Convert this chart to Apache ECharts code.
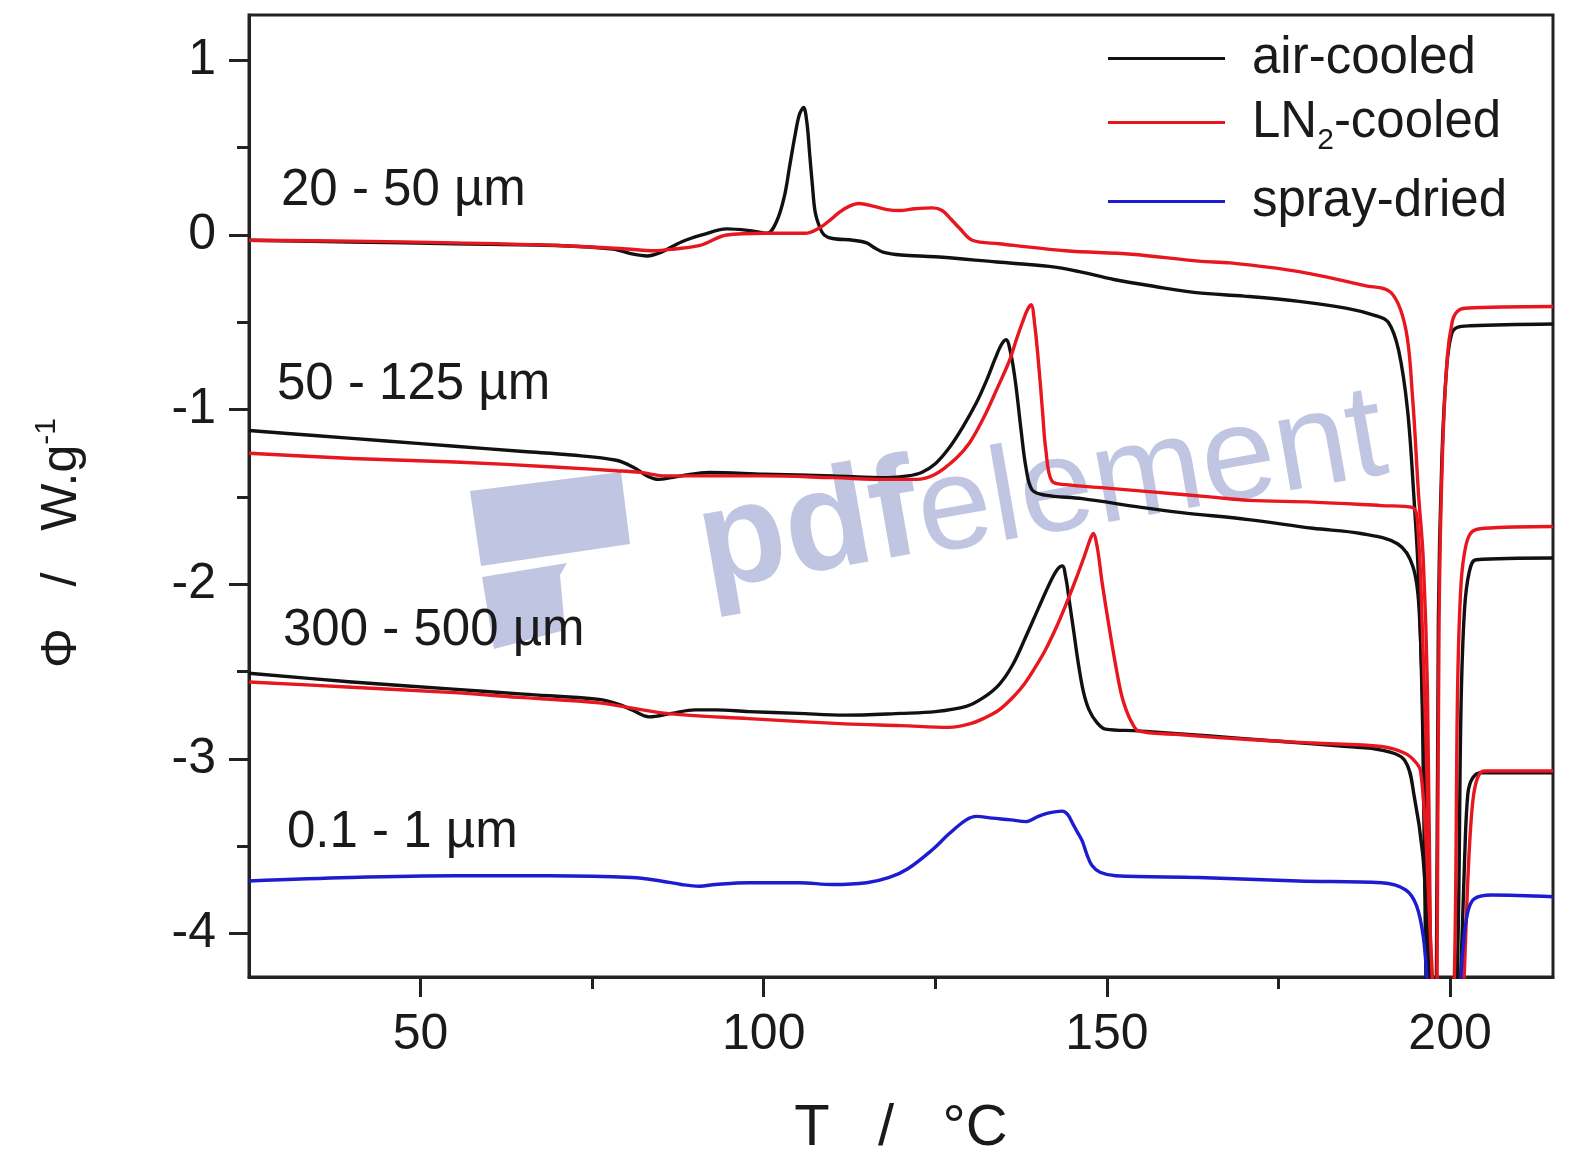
<!DOCTYPE html>
<html>
<head>
<meta charset="utf-8">
<script src="https://cdn.jsdelivr.net/npm/echarts@6/dist/echarts.min.js"></script>
<style>
  html, body { margin: 0; padding: 0; background: #ffffff; }
  #chart { width: 1573px; height: 1167px; }
</style>
</head>
<body>
<div id="chart"></div>
<script>
const FONT = '"Liberation Sans", Arial, Helvetica, sans-serif';

// DSC heating traces: [temperature in °C, heat flow Φ in W/g]
const air_20_50 = [[25,-0.03],[40,-0.04],[55,-0.05],[70,-0.06],[78,-0.08],[81,-0.11],[83,-0.12],[85,-0.10],[88,-0.04],[91,0.0],[94.6,0.035],[98,0.025],[100.5,0.01],[101.9,0.08],[103,0.22],[103.8,0.40],[104.6,0.58],[105.2,0.69],[105.8,0.73],[106.3,0.64],[106.7,0.46],[107.1,0.28],[107.5,0.13],[108.2,0.04],[108.8,0.0],[110,-0.02],[113,-0.03],[115,-0.045],[116.2,-0.075],[117.5,-0.10],[120,-0.115],[125,-0.125],[134,-0.155],[141.6,-0.18],[146,-0.21],[151,-0.255],[157,-0.295],[163,-0.33],[170,-0.35],[178,-0.38],[185,-0.42],[189,-0.46],[191,-0.50],[192.5,-0.66],[193.8,-1.0],[194.7,-1.48],[195.4,-1.96],[196.0,-2.8],[196.5,-4.3],[197.3,-5.8],[198.0,-4.3],[198.3,-2.2],[198.8,-1.29],[199.5,-0.76],[200.2,-0.57],[201,-0.53],[203,-0.52],[215,-0.51]];
const ln2_20_50 = [[25,-0.03],[40,-0.035],[55,-0.045],[70,-0.06],[80,-0.08],[84,-0.09],[87,-0.08],[90.7,-0.06],[94.6,0.0],[100,0.01],[106,0.01],[108.1,0.04],[109.5,0.08],[111,0.13],[112.5,0.165],[113.9,0.18],[115.9,0.165],[118,0.145],[119.8,0.14],[122,0.15],[124.6,0.155],[126,0.14],[127.3,0.09],[128.5,0.04],[130.4,-0.03],[134.3,-0.05],[144,-0.09],[153.6,-0.11],[163.4,-0.15],[168,-0.16],[178,-0.21],[187.6,-0.29],[191.4,-0.33],[193.5,-0.53],[194.5,-0.91],[195.4,-1.48],[196.1,-1.86],[196.7,-2.6],[197.2,-4.3],[197.7,-5.8],[198.1,-4.3],[198.4,-2.2],[198.9,-1.25],[199.6,-0.7],[200.3,-0.5],[201,-0.44],[202.2,-0.42],[215,-0.41]];

const air_50_125 = [[25,-1.12],[35,-1.15],[45,-1.18],[55,-1.21],[65,-1.24],[72,-1.26],[78.5,-1.29],[81,-1.33],[83,-1.38],[84.7,-1.40],[86.5,-1.39],[88,-1.38],[92,-1.36],[100,-1.37],[110,-1.38],[118,-1.39],[121,-1.38],[123,-1.36],[125,-1.31],[127,-1.22],[129,-1.10],[131,-0.96],[132.5,-0.83],[133.7,-0.71],[134.6,-0.63],[135.3,-0.60],[136,-0.68],[136.7,-0.85],[137.5,-1.12],[138.2,-1.33],[139.1,-1.46],[141,-1.49],[146.4,-1.51],[155,-1.56],[160.9,-1.59],[170.6,-1.63],[180,-1.68],[187,-1.71],[192.4,-1.77],[194.6,-1.90],[195.5,-2.15],[196.2,-3.0],[196.8,-4.3],[199,-6.0],[201.0,-4.3],[201.6,-2.7],[202.1,-2.15],[202.8,-1.93],[203.8,-1.86],[215,-1.85]];
const ln2_50_125 = [[25,-1.25],[40,-1.28],[55,-1.30],[70,-1.33],[78.5,-1.35],[82,-1.36],[85.8,-1.38],[90,-1.38],[100,-1.38],[110,-1.39],[118,-1.40],[122.2,-1.40],[125,-1.37],[128,-1.28],[130,-1.19],[132,-1.05],[134,-0.88],[135.8,-0.72],[136.8,-0.60],[137.7,-0.50],[138.4,-0.43],[138.95,-0.40],[139.5,-0.52],[140.1,-0.76],[140.6,-1.00],[141.1,-1.23],[142,-1.41],[144,-1.43],[150,-1.45],[156.1,-1.47],[165,-1.50],[170.6,-1.52],[180,-1.53],[190,-1.55],[194.5,-1.56],[195.3,-1.67],[196.0,-2.3],[196.7,-3.2],[197.3,-4.3],[199,-6.0],[200.6,-4.3],[201.1,-2.6],[201.6,-2.0],[202.3,-1.78],[203.2,-1.70],[205,-1.68],[215,-1.67]];

const air_300_500 = [[25,-2.51],[40,-2.56],[54.2,-2.60],[65,-2.63],[76,-2.66],[79,-2.69],[80.8,-2.72],[83.3,-2.76],[86.6,-2.74],[90,-2.72],[93,-2.72],[97.8,-2.73],[105,-2.74],[111.8,-2.75],[120,-2.74],[125,-2.73],[129.5,-2.70],[132,-2.65],[134.3,-2.575],[136.3,-2.46],[138.2,-2.30],[140,-2.14],[141.6,-2.00],[142.7,-1.92],[143.5,-1.895],[144,-1.96],[144.5,-2.09],[145.2,-2.28],[145.9,-2.47],[146.6,-2.62],[147.4,-2.72],[148.5,-2.79],[149.8,-2.83],[154.6,-2.84],[165,-2.87],[175,-2.90],[185,-2.93],[190,-2.95],[193.4,-3.01],[194.8,-3.22],[196,-3.54],[196.6,-3.9],[197.0,-4.3],[199.5,-6.0],[201.5,-4.3],[202.1,-3.6],[202.6,-3.2],[203.3,-3.11],[204.5,-3.08],[215,-3.08]];
const ln2_300_500 = [[25,-2.56],[40,-2.59],[54.2,-2.62],[65,-2.65],[76,-2.68],[85.8,-2.74],[97.8,-2.77],[111.8,-2.80],[120,-2.81],[127,-2.82],[130,-2.80],[132,-2.77],[134.3,-2.72],[136.5,-2.64],[138,-2.57],[139.5,-2.48],[141,-2.38],[142.6,-2.25],[144,-2.12],[145.5,-1.97],[146.8,-1.83],[147.5,-1.75],[148,-1.71],[148.6,-1.79],[149.3,-1.99],[150.3,-2.24],[151.3,-2.47],[152.1,-2.63],[152.8,-2.72],[153.6,-2.79],[154.6,-2.84],[160,-2.86],[170.6,-2.89],[180,-2.91],[190,-2.93],[193.5,-2.97],[195.0,-3.02],[195.7,-3.07],[196.4,-3.4],[197.0,-3.9],[197.5,-4.3],[200,-6.0],[202.0,-4.3],[202.7,-3.6],[203.3,-3.25],[204.0,-3.11],[205,-3.07],[215,-3.07]];

const spray_01_1 = [[25,-3.70],[39.7,-3.68],[55,-3.67],[68.8,-3.67],[80.8,-3.68],[85,-3.70],[88,-3.72],[90.6,-3.73],[93,-3.72],[97.8,-3.71],[105.2,-3.71],[110,-3.72],[115,-3.71],[118.3,-3.68],[121,-3.63],[124.6,-3.52],[127,-3.43],[129.5,-3.35],[131,-3.33],[133.3,-3.34],[136,-3.35],[138.2,-3.36],[140,-3.33],[141.6,-3.31],[143.5,-3.30],[144.3,-3.32],[145,-3.37],[145.7,-3.42],[146.4,-3.47],[147.1,-3.55],[147.8,-3.61],[149,-3.65],[151.3,-3.67],[163.4,-3.68],[177.9,-3.70],[190,-3.71],[193.5,-3.75],[195.1,-3.84],[196.1,-4.02],[196.7,-4.3],[199.5,-6.0],[201.5,-4.3],[202.1,-4.0],[202.7,-3.86],[203.6,-3.80],[206,-3.78],[215,-3.79]];

// axis ticks
const xMajorTicks = [50, 100, 150, 200];
const xMinorTicks = [75, 125, 175];
const yMajorTicks = [-4, -3, -2, -1, 0, 1];
const yMinorTicks = [-3.5, -2.5, -1.5, -0.5, 0.5];

// particle size classes written next to each trace group
const sizeLabels = ['20 - 50 µm', '50 - 125 µm', '300 - 500 µm', '0.1 - 1 µm'];
const sizeLabelPos = [[281, 191], [277, 385], [283, 631], [287, 833]];

const BLACK = '#111111', RED = '#e8161e', BLUE = '#1d1dcf', AXIS = '#222222', TEXT = '#1a1a1a';
const MARK = '#c0c5e2';

function trace(name, data, color) {
  return {
    name: name, type: 'line', data: data,
    symbol: 'none', showSymbol: false,
    smooth: 0.35,
    lineStyle: { color: color, width: 3.4, join: 'round' },
    itemStyle: { color: color },
    clip: true, z: 3
  };
}

const legendBase = {
  orient: 'vertical', left: 1108, padding: 0, itemGap: 0,
  icon: 'rect', itemWidth: 117, itemHeight: 3, selectedMode: false,
  textStyle: { fontSize: 51, fontFamily: FONT, color: TEXT, padding: [0, 0, 0, 22] }
};

const chart = echarts.init(document.getElementById('chart'), null, { renderer: 'canvas' });

const option = {
  animation: false,
  backgroundColor: '#ffffff',
  grid: { left: 249, right: 20, top: 15, bottom: 190, show: true, borderColor: AXIS, borderWidth: 3, containLabel: false },
  xAxis: [
    {
      type: 'value', min: 25, max: 215, position: 'bottom',
      axisLine: { show: true, onZero: false, lineStyle: { color: AXIS, width: 3 } },
      axisTick: { show: true, inside: false, length: 20, customValues: xMajorTicks, lineStyle: { color: AXIS, width: 3 } },
      axisLabel: { customValues: xMajorTicks, fontSize: 50, fontFamily: FONT, color: TEXT, margin: 33 },
      splitLine: { show: false },
      name: 'T   /   °C', nameLocation: 'middle', nameGap: 123,
      nameTextStyle: { fontSize: 58, fontFamily: FONT, color: TEXT }
    },
    {
      type: 'value', min: 25, max: 215, position: 'bottom',
      axisLine: { show: false, onZero: false },
      axisTick: { show: true, inside: false, length: 12, customValues: xMinorTicks, lineStyle: { color: AXIS, width: 3 } },
      axisLabel: { show: false },
      splitLine: { show: false }
    }
  ],
  yAxis: [
    {
      type: 'value', min: -4.25, max: 1.26, position: 'left',
      axisLine: { show: true, onZero: false, lineStyle: { color: AXIS, width: 3 } },
      axisTick: { show: true, inside: false, length: 20, customValues: yMajorTicks, lineStyle: { color: AXIS, width: 3 } },
      axisLabel: { customValues: yMajorTicks, fontSize: 50, fontFamily: FONT, color: TEXT, margin: 33 },
      splitLine: { show: false }
    },
    {
      type: 'value', min: -4.25, max: 1.26, position: 'left',
      axisLine: { show: false, onZero: false },
      axisTick: { show: true, inside: false, length: 12, customValues: yMinorTicks, lineStyle: { color: AXIS, width: 3 } },
      axisLabel: { show: false },
      splitLine: { show: false }
    }
  ],
  legend: [
    Object.assign({}, legendBase, { top: 33, data: ['air-cooled'] }),
    Object.assign({}, legendBase, {
      top: 97, data: ['LN2-cooled'],
      formatter: function () { return '{a|LN}{s|2}{a|-cooled}'; },
      textStyle: Object.assign({}, legendBase.textStyle, {
        rich: {
          a: { fontSize: 51, fontFamily: FONT, color: TEXT },
          s: { fontSize: 30, fontFamily: FONT, color: TEXT, padding: [36, 0, 0, 0] }
        }
      })
    }),
    Object.assign({}, legendBase, { top: 176, data: ['spray-dried'] })
  ],
  series: [
    trace('air-cooled', air_20_50, BLACK),
    trace('LN2-cooled', ln2_20_50, RED),
    trace('air-cooled', air_50_125, BLACK),
    trace('LN2-cooled', ln2_50_125, RED),
    trace('air-cooled', air_300_500, BLACK),
    trace('LN2-cooled', ln2_300_500, RED),
    trace('spray-dried', spray_01_1, BLUE)
  ],
  graphic: {
    elements: [
      // light watermark behind the traces
      { type: 'polygon', z: 0, shape: { points: [[470, 491], [621, 472], [630, 544], [481, 566]] }, style: { fill: MARK } },
      { type: 'polygon', z: 0, shape: { points: [[482, 577], [567, 563], [560, 575], [565, 630], [494, 649]] }, style: { fill: MARK } },
      {
        type: 'text', z: 0, x: 700, y: 551, rotation: 0.173,
        style: {
          text: '{b|pdf}{n|element}', align: 'left', verticalAlign: 'middle',
          rich: {
            b: { fontSize: 142, fontWeight: 'bold', fontFamily: FONT, fill: MARK },
            n: { fontSize: 133, fontFamily: FONT, fill: MARK, padding: [10, 0, 0, 0] }
          }
        }
      },
      // y-axis title
      {
        type: 'text', z: 10, x: 62, y: 543, rotation: Math.PI / 2,
        style: {
          text: '{a|Φ   /   W.g}{s|-1}', align: 'center', verticalAlign: 'middle',
          rich: {
            a: { fontSize: 50, fontFamily: FONT, fill: TEXT },
            s: { fontSize: 30, fontFamily: FONT, fill: TEXT, padding: [0, 0, 30, 0] }
          }
        }
      }
    ].concat(sizeLabels.map(function (t, i) {
      return {
        type: 'text', z: 10, x: sizeLabelPos[i][0], y: sizeLabelPos[i][1],
        style: { text: t, fontSize: 51, fontFamily: FONT, fill: TEXT, align: 'left', verticalAlign: 'middle' }
      };
    }))
  }
};

chart.setOption(option);
</script>
</body>
</html>
